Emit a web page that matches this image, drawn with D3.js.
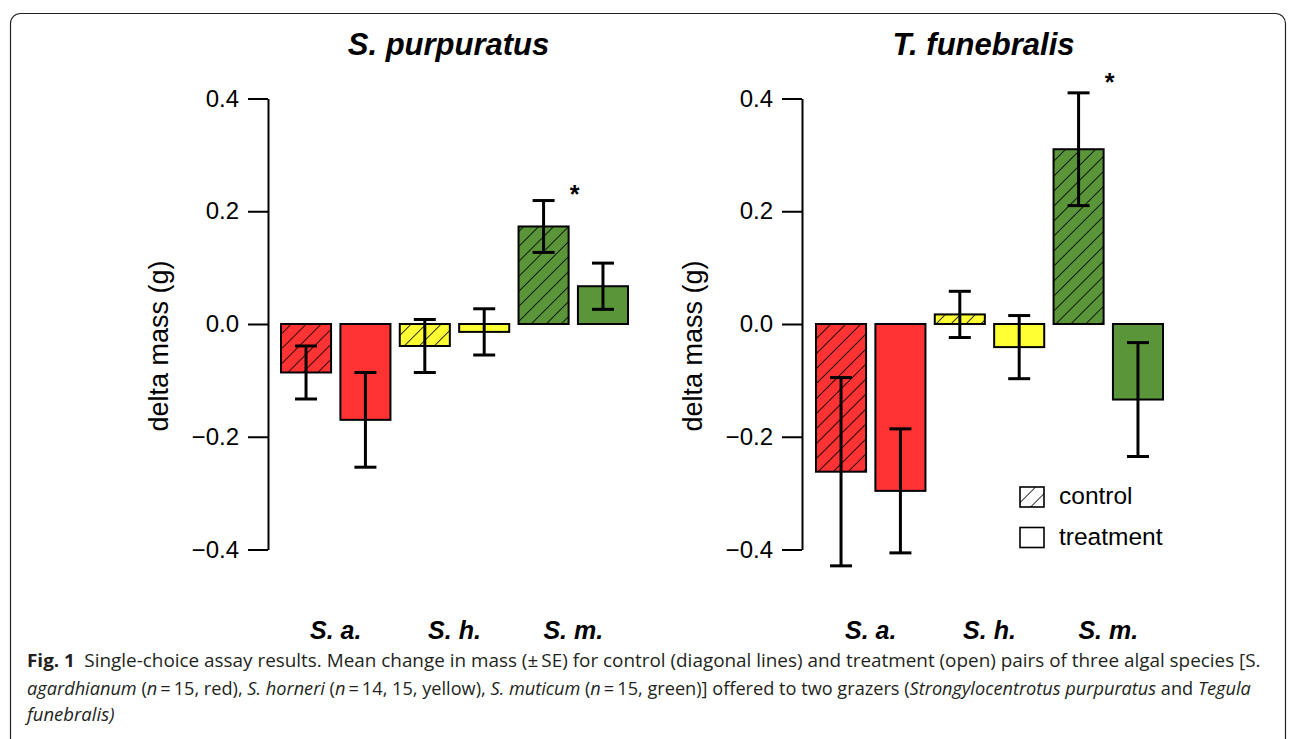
<!DOCTYPE html>
<html lang="en">
<head>
    <meta charset="UTF-8">
    <title>Single-choice assay results</title>
    <style>
        body { margin: 0; background: #fff; }
        svg text { font-family: "Liberation Sans", Arial, sans-serif; }
        .axis path, .axis line { stroke: #000; stroke-width: 2px; }
        .axis text { font-size: 24px; fill: #000; }
        .caption text { font-family: "Open Sans", "Noto Sans", sans-serif; font-size: 18px; fill: #231f20; }
    </style>
</head>
<body>
    <svg width="1296" height="739"></svg>
    <script src="https://d3js.org/d3.v7.min.js"></script>
    <script>
        // data (mean change in mass, +/- SE)
        const species = ["S. a.", "S. h.", "S. m."];
        const groups = ["control", "treatment"];
        const speciesColors = ["#ff3333", "#ffff33", "#5a9639"];
        const yTicks = [-0.4, -0.2, 0.0, 0.2, 0.4];

        const purpMean = [-0.086, -0.170, -0.039, -0.014, 0.173, 0.067];
        const purpSE   = [0.047, 0.084, 0.047, 0.041, 0.046, 0.041];
        const funeMean = [-0.262, -0.296, 0.017, -0.041, 0.310, -0.134];
        const funeSE   = [0.167, 0.110, 0.041, 0.056, 0.100, 0.101];
        const starBar  = [4, 4];   // bar index with the significance asterisk

        const svg = d3.select("svg");

        // frame
        svg.append("rect")
            .attr("x", 10.5).attr("y", 13.5)
            .attr("width", 1275).attr("height", 740)
            .attr("rx", 10).attr("ry", 10)
            .style("fill", "none").style("stroke", "#222").style("stroke-width", 1.2);

        // hatch pattern for the control bars
        const defs = svg.append("defs");
        defs.append("pattern")
            .attr("id", "hatch")
            .attr("patternUnits", "userSpaceOnUse")
            .attr("width", 10.6).attr("height", 10.6)
            .attr("patternTransform", "rotate(45)")
            .append("line")
            .attr("x1", 0).attr("y1", -2).attr("x2", 0).attr("y2", 13)
            .style("stroke", "#000").style("stroke-width", 1.6);

        const y = d3.scaleLinear().domain([-0.4, 0.4]).range([549.5, 98.5]);

        const bars = d3.range(6).map(i => ({
            id: i,
            sp: Math.floor(i / 2),
            grp: groups[i % 2]
        }));

        const panels = [
            { title: "S. purpuratus", axisX: 268, x0: 281, x1: 628, mean: purpMean, se: purpSE, star: starBar[0], starDy: 2 },
            { title: "T. funebralis", axisX: 802, x0: 816, x1: 1163, mean: funeMean, se: funeSE, star: starBar[1], starDy: -2 }
        ];

        panels.forEach(p => {
            const g = svg.append("g");
            const x = d3.scaleBand().domain(d3.range(6)).range([p.x0, p.x1]).paddingInner(0.157).paddingOuter(0);
            const bw = x.bandwidth();

            // y axis
            g.append("g")
                .attr("class", "axis")
                .attr("transform", `translate(${p.axisX},0)`)
                .call(d3.axisLeft(y).tickValues(yTicks).tickFormat(d3.format(".1f"))
                    .tickSize(20).tickSizeOuter(0).tickPadding(9));

            g.append("text")
                .attr("transform", `translate(${p.axisX - 100},346) rotate(-90)`)
                .attr("text-anchor", "middle")
                .style("font-size", "27px")
                .text("delta mass (g)");

            // title
            g.append("text")
                .attr("x", (p.x0 + p.x1) / 2 - 6)
                .attr("y", 55)
                .attr("text-anchor", "middle")
                .style("font-size", "31px").style("font-weight", "bold").style("font-style", "italic")
                .text(p.title);

            const top = d => y(Math.max(0, p.mean[d.id]));
            const hgt = d => Math.abs(y(p.mean[d.id]) - y(0));

            // bars
            g.selectAll(".bar").data(bars).enter().append("rect")
                .attr("class", "bar")
                .attr("x", d => x(d.id)).attr("y", top)
                .attr("width", bw).attr("height", hgt)
                .style("fill", d => speciesColors[d.sp]);

            g.selectAll(".hatch").data(bars.filter(d => d.grp === "control")).enter().append("rect")
                .attr("class", "hatch")
                .attr("x", d => x(d.id)).attr("y", top)
                .attr("width", bw).attr("height", hgt)
                .style("fill", "url(#hatch)");

            g.selectAll(".outline").data(bars).enter().append("rect")
                .attr("class", "outline")
                .attr("x", d => x(d.id)).attr("y", top)
                .attr("width", bw).attr("height", hgt)
                .style("fill", "none").style("stroke", "#000").style("stroke-width", 2);

            // error bars
            const eb = g.selectAll(".err").data(bars).enter().append("g").attr("class", "err")
                .style("stroke", "#000").style("stroke-width", 3);
            const cx = d => x(d.id) + bw / 2;
            eb.append("line")
                .attr("x1", cx).attr("x2", cx)
                .attr("y1", d => y(p.mean[d.id] + p.se[d.id]))
                .attr("y2", d => y(p.mean[d.id] - p.se[d.id]));
            [1, -1].forEach(s => {
                eb.append("line")
                    .attr("x1", d => cx(d) - 11).attr("x2", d => cx(d) + 11)
                    .attr("y1", d => y(p.mean[d.id] + s * p.se[d.id]))
                    .attr("y2", d => y(p.mean[d.id] + s * p.se[d.id]));
            });

            // asterisk
            g.append("text")
                .attr("x", x(p.star) + bw + 6)
                .attr("y", y(p.mean[p.star] + p.se[p.star]) + p.starDy)
                .attr("text-anchor", "middle")
                .style("font-size", "25px").style("font-weight", "bold")
                .text("*");

            // species labels under each pair
            g.selectAll(".sp").data(species).enter().append("text")
                .attr("class", "sp")
                .attr("x", (d, i) => (x(i * 2) + x(i * 2 + 1) + bw) / 2)
                .attr("y", 639)
                .attr("text-anchor", "middle")
                .style("font-size", "25px").style("font-weight", "bold").style("font-style", "italic")
                .text(d => d);
        });

        // legend
        const leg = svg.append("g").attr("transform", "translate(1020,487)");
        groups.forEach((gname, i) => {
            const row = leg.append("g").attr("transform", `translate(0,${i * 40.5})`);
            if (gname === "control") {
                row.append("rect").attr("width", 24).attr("height", 20).style("fill", "url(#hatch)");
            }
            row.append("rect").attr("width", 24).attr("height", 20)
                .style("fill", "none").style("stroke", "#000").style("stroke-width", 1.6);
            row.append("text").attr("x", 39).attr("y", 17)
                .style("font-size", "24.5px").text(gname);
        });

        // caption
        const cap = svg.append("g").attr("class", "caption");
        const capLines = [
            { y: 667, end: 1262, parts: [
                ["Fig. 1", "b"],
                ["\u2002Single-choice assay results. Mean change in mass (\u00b1\u2009SE) for control (diagonal lines) and treatment (open) pairs of three algal species [S.", ""]
            ] },
            { y: 695, end: 1251, parts: [
                ["agardhianum", "i"], [" (", ""], ["n", "i"], ["\u2009=\u200915, red), ", ""],
                ["S. horneri", "i"], [" (", ""], ["n", "i"], ["\u2009=\u200914, 15, yellow), ", ""],
                ["S. muticum", "i"], [" (", ""], ["n", "i"], ["\u2009=\u200915, green)] offered to two grazers (", ""],
                ["Strongylocentrotus purpuratus", "i"], [" and ", ""], ["Tegula", "i"]
            ] },
            { y: 721, end: null, parts: [["funebralis)", "i"]] }
        ];
        const scales = [];
        capLines.forEach(l => {
            const lg = cap.append("g");
            const t = lg.append("text").attr("x", 0).attr("y", 0).style("white-space", "pre");
            l.parts.forEach(([s, st]) => {
                t.append("tspan")
                    .style("font-weight", st === "b" ? "bold" : null)
                    .style("font-style", st === "i" ? "italic" : null)
                    .text(s);
            });
            const w = t.node().getComputedTextLength();
            const sx = l.end ? (l.end - 27) / w : d3.mean(scales);
            scales.push(sx);
            lg.attr("transform", `translate(27,${l.y}) scale(${sx},1)`);
        });
    </script>
</body>
</html>
